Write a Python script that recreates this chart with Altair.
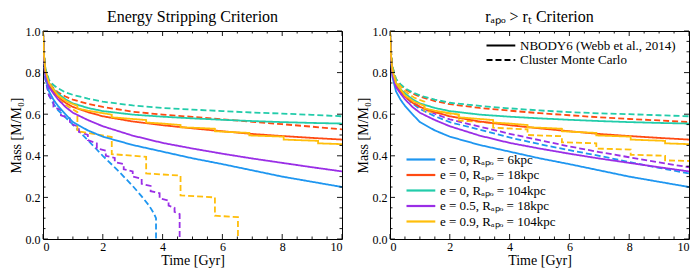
import altair as alt
import pandas as pd

# ---------------- data ----------------
LABELS = ["e = 0, Rₐₚₒ = 6kpc", "e = 0, Rₐₚₒ = 18kpc", "e = 0, Rₐₚₒ = 104kpc",
          "e = 0.5, Rₐₚₒ = 18kpc", "e = 0.9, Rₐₚₒ = 104kpc"]
COLORS = ["#1E96F0", "#FF4A12", "#22CCAA", "#9A2EE6", "#FFBE0B"]
MODELS = ["NBODY6 (Webb et al., 2014)", "Cluster Monte Carlo"]

T_SMOOTH = [0, 0.03, 0.08, 0.2, 0.35, 0.5, 0.75, 1, 1.5, 2, 3, 4, 5, 6, 7, 8, 9, 10]

# NBODY6 (solid) - identical in both panels
blue_s   = [1.0, 0.88, 0.78, 0.71, 0.67, 0.64, 0.60, 0.562, 0.522, 0.492, 0.452, 0.42, 0.388, 0.36, 0.33, 0.30, 0.275, 0.25]
red_s    = [1.0, 0.89, 0.80, 0.74, 0.71, 0.685, 0.655, 0.635, 0.61, 0.59, 0.565, 0.547, 0.532, 0.518, 0.505, 0.495, 0.486, 0.478]
cyan_s   = [1.0, 0.89, 0.81, 0.75, 0.72, 0.70, 0.672, 0.652, 0.63, 0.615, 0.598, 0.588, 0.58, 0.573, 0.567, 0.562, 0.558, 0.555]
purple_s = [1.0, 0.88, 0.79, 0.73, 0.70, 0.672, 0.635, 0.607, 0.572, 0.542, 0.497, 0.462, 0.435, 0.41, 0.387, 0.366, 0.345, 0.325]
T_YS     = [0, 0.03, 0.08, 0.2, 0.5, 0.8, 1.15, 1.15, 1.5, 2.0, 2.3, 2.3, 3.0, 3.45, 3.45, 4.0, 4.6, 4.6,
            5.2, 5.75, 5.75, 6.3, 6.9, 6.9, 7.5, 8.05, 8.05, 8.6, 9.2, 9.2, 10]
yellow_s = [1.0, 0.89, 0.81, 0.75, 0.69, 0.66, 0.64, 0.628, 0.617, 0.605, 0.598, 0.585, 0.577, 0.572, 0.56,
            0.555, 0.548, 0.537, 0.534, 0.530, 0.518, 0.514, 0.510, 0.498, 0.495, 0.492, 0.478, 0.475, 0.472, 0.46, 0.456]

# Cluster Monte Carlo (dashed), energy stripping criterion (left)
cyan_dL = [1.0, 0.9, 0.82, 0.765, 0.74, 0.725, 0.705, 0.693, 0.675, 0.66, 0.642, 0.63, 0.622, 0.615, 0.608, 0.603, 0.597, 0.59]
red_dL  = [1.0, 0.9, 0.81, 0.755, 0.725, 0.705, 0.685, 0.67, 0.65, 0.635, 0.612, 0.598, 0.587, 0.575, 0.563, 0.552, 0.54, 0.527]
T_BL    = [0, 0.03, 0.08, 0.2, 0.35, 0.5, 0.75, 1, 1.5, 2, 2.5, 3, 3.3, 3.55, 3.7, 3.78, 3.78]
blue_dL = [1.0, 0.87, 0.77, 0.69, 0.65, 0.62, 0.585, 0.55, 0.475, 0.40, 0.33, 0.255, 0.205, 0.16, 0.125, 0.10, 0.0]
T_PL    = [0, 0.03, 0.08, 0.2, 0.35, 0.35, 0.6, 0.6, 0.9, 0.9, 1.2, 1.2, 1.5, 1.5, 1.8, 1.8, 2.1, 2.1,
           2.4, 2.4, 2.7, 2.7, 3.0, 3.0, 3.3, 3.3, 3.6, 3.6, 3.9, 3.9, 4.2, 4.2, 4.4, 4.4, 4.57, 4.57]
purple_dL = [1.0, 0.87, 0.77, 0.69, 0.66, 0.635, 0.62, 0.595, 0.58, 0.555, 0.54, 0.515, 0.50, 0.475, 0.46, 0.435,
             0.425, 0.40, 0.39, 0.37, 0.36, 0.335, 0.325, 0.30, 0.29, 0.265, 0.255, 0.23, 0.22, 0.195, 0.185, 0.16,
             0.15, 0.13, 0.12, 0.0]
T_YL      = [0, 0.03, 0.08, 0.2, 0.5, 0.8, 1.15, 1.15, 2.3, 2.3, 3.45, 3.45, 4.6, 4.6, 5.75, 5.75, 6.52, 6.52]
yellow_dL = [1.0, 0.88, 0.79, 0.73, 0.675, 0.64, 0.61, 0.518, 0.49, 0.408, 0.395, 0.315, 0.305, 0.21, 0.20, 0.112, 0.105, 0.0]

# Cluster Monte Carlo (dashed), r_apo > r_t criterion (right)
cyan_dR   = [1.0, 0.91, 0.83, 0.77, 0.745, 0.725, 0.705, 0.69, 0.67, 0.655, 0.64, 0.628, 0.618, 0.61, 0.604, 0.60, 0.595, 0.59]
red_dR    = [1.0, 0.91, 0.83, 0.765, 0.74, 0.72, 0.70, 0.685, 0.663, 0.648, 0.63, 0.617, 0.605, 0.595, 0.585, 0.577, 0.57, 0.562]
blue_dR   = [1.0, 0.89, 0.80, 0.74, 0.71, 0.685, 0.652, 0.625, 0.59, 0.562, 0.525, 0.488, 0.456, 0.427, 0.40, 0.37, 0.342, 0.315]
purple_dR = [1.0, 0.89, 0.80, 0.745, 0.715, 0.692, 0.66, 0.636, 0.602, 0.575, 0.54, 0.506, 0.475, 0.445, 0.418, 0.393, 0.368, 0.345]
T_YR      = [0, 0.03, 0.08, 0.2, 0.5, 0.8, 1.15, 1.15, 2.3, 2.3, 3.45, 3.45, 4.6, 4.6, 5.75, 5.75,
             6.9, 6.9, 8.05, 8.05, 9.2, 9.2, 10]
yellow_dR = [1.0, 0.9, 0.82, 0.76, 0.71, 0.68, 0.66, 0.615, 0.598, 0.57, 0.558, 0.535, 0.527, 0.50, 0.494, 0.465,
             0.46, 0.435, 0.43, 0.405, 0.40, 0.378, 0.375]

X_MAJOR = [0, 2, 4, 6, 8, 10]
X_MINOR = [0.5, 1, 1.5, 2.5, 3, 3.5, 4.5, 5, 5.5, 6.5, 7, 7.5, 8.5, 9, 9.5]
Y_MAJOR = [0.0, 0.2, 0.4, 0.6, 0.8, 1.0]
Y_MINOR = [0.05, 0.1, 0.15, 0.25, 0.3, 0.35, 0.45, 0.5, 0.55, 0.65, 0.7, 0.75, 0.85, 0.9, 0.95]

# ---------------- assemble table ----------------
solid = [(LABELS[0], T_SMOOTH, blue_s), (LABELS[1], T_SMOOTH, red_s), (LABELS[2], T_SMOOTH, cyan_s),
         (LABELS[3], T_SMOOTH, purple_s), (LABELS[4], T_YS, yellow_s)]
dashed = {
    "left": [(LABELS[0], T_BL, blue_dL), (LABELS[1], T_SMOOTH, red_dL), (LABELS[2], T_SMOOTH, cyan_dL),
             (LABELS[3], T_PL, purple_dL), (LABELS[4], T_YL, yellow_dL)],
    "right": [(LABELS[0], T_SMOOTH, blue_dR), (LABELS[1], T_SMOOTH, red_dR), (LABELS[2], T_SMOOTH, cyan_dR),
              (LABELS[3], T_SMOOTH, purple_dR), (LABELS[4], T_YR, yellow_dR)],
}
rows = []
for panel in ["left", "right"]:
    for model, series in [(MODELS[1], dashed[panel]), (MODELS[0], solid)]:
        for lab, ts, ms in series:
            for i, (t, m) in enumerate(zip(ts, ms)):
                rows.append({"panel": panel, "series": lab, "model": model, "t": t, "m": m, "i": i})
df = pd.DataFrame(rows)

W, H = 299, 208
FONT = "Liberation Serif"
XS = alt.Scale(domain=[0, 10], nice=False, zero=False)
YS = alt.Scale(domain=[0, 1], nice=False, zero=False)
XA = alt.Axis(values=X_MAJOR, format="d", title="Time [Gyr]", ticks=False, domain=False, grid=False,
              labelPadding=2, titlePadding=1)
YA = alt.Axis(values=Y_MAJOR, format=".1f", title="Mass [M/M₀]", ticks=False, domain=False, grid=False,
              labelPadding=3, titlePadding=2)


def ticks():
    layers = []
    for vals, ln in [(X_MAJOR, 5), (X_MINOR, 2.5)]:
        b = alt.Chart(pd.DataFrame({"v": vals})).mark_rule(color="black", strokeWidth=0.9)
        layers.append(b.encode(x=alt.X("v:Q", scale=XS, axis=XA), y=alt.value(H), y2=alt.value(H - ln)))
        layers.append(b.encode(x=alt.X("v:Q", scale=XS, axis=XA), y=alt.value(0), y2=alt.value(ln)))
    for vals, ln in [(Y_MAJOR, 5), (Y_MINOR, 2.5)]:
        b = alt.Chart(pd.DataFrame({"v": vals})).mark_rule(color="black", strokeWidth=0.9)
        layers.append(b.encode(y=alt.Y("v:Q", scale=YS, axis=YA), x=alt.value(0), x2=alt.value(ln)))
        layers.append(b.encode(y=alt.Y("v:Q", scale=YS, axis=YA), x=alt.value(W), x2=alt.value(W - ln)))
    return layers


def panel(name, title, legends):
    if legends:
        cleg = alt.Legend(title=None, orient="none", legendX=14, legendY=122, symbolType="M-1,0H6.2",
                          symbolSize=64, symbolStrokeWidth=2.2, labelOffset=23, labelFont=FONT,
                          labelFontSize=13, labelColor="black", rowPadding=1.5, padding=0, labelLimit=300)
        dleg = alt.Legend(title=None, orient="none", legendX=94, legendY=8, symbolType="M-1,0H6.2",
                          symbolSize=64, symbolStrokeWidth=2.2, symbolStrokeColor="black", labelOffset=23,
                          labelFont=FONT, labelFontSize=13, labelColor="black", rowPadding=0.5, padding=0,
                          labelLimit=300)
    else:
        cleg = None
        dleg = None
    lines = alt.Chart(df[df.panel == name]).mark_line(strokeWidth=1.8, clip=True).encode(
        x=alt.X("t:Q", scale=XS, axis=XA),
        y=alt.Y("m:Q", scale=YS, axis=YA),
        color=alt.Color("series:N", scale=alt.Scale(domain=LABELS, range=COLORS), legend=cleg),
        strokeDash=alt.StrokeDash("model:N", scale=alt.Scale(domain=MODELS, range=[[1, 0], [6, 3]]),
                                  legend=dleg),
        order=alt.Order("i:Q"),
    )
    return alt.layer(lines, *ticks()).properties(
        width=W, height=H,
        title=alt.TitleParams(title, font=FONT, fontSize=16, fontWeight="normal", color="black", offset=0),
    )


left = panel("left", "Energy Stripping Criterion", False)
right = panel("right", "rₐₚₒ > rₜ Criterion", True)

chart = alt.hconcat(left, right, spacing=12).resolve_scale(
    color="independent", strokeDash="independent"
).properties(padding=0).configure_view(stroke="black", strokeWidth=1).configure_axis(
    labelFont=FONT, labelFontSize=12, labelColor="black", titleFont=FONT, titleFontSize=14,
    titleFontWeight="normal", titleColor="black"
)

chart.save("out.html", embed_options={"renderer": "svg", "actions": False})
